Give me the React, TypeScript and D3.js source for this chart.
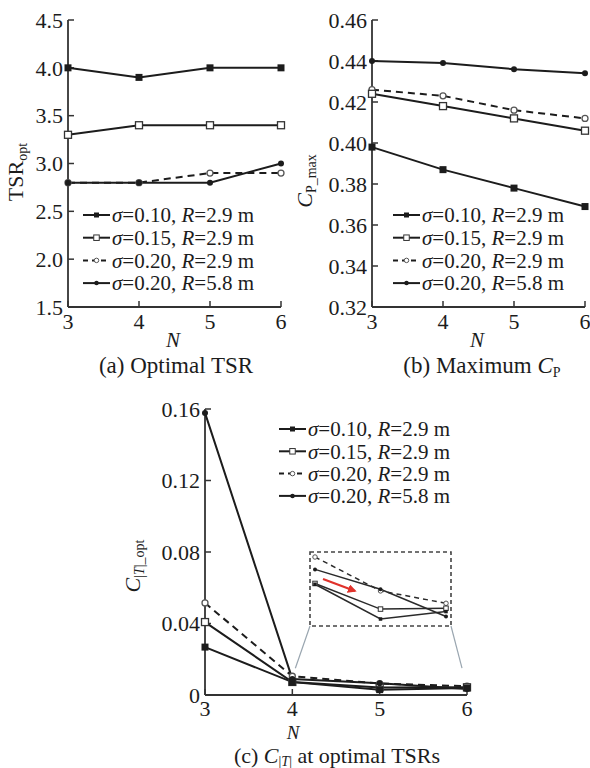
import React from "react";
import * as d3 from "d3";

// Blade numbers on every x axis
const N_VALUES = [3, 4, 5, 6];

// Legend labels for the four rotor configurations
const SIGMA_LABELS = ["0.10", "0.15", "0.20", "0.20"];
const RADIUS_LABELS = ["2.9", "2.9", "2.9", "5.8"];

// (a) optimal tip speed ratio
const TSR_S010_R29 = [4.0, 3.9, 4.0, 4.0];
const TSR_S015_R29 = [3.3, 3.4, 3.4, 3.4];
const TSR_S020_R29 = [2.8, 2.8, 2.9, 2.9];
const TSR_S020_R58 = [2.8, 2.8, 2.8, 3.0];

// (b) maximum power coefficient
const CP_S010_R29 = [0.398, 0.387, 0.378, 0.369];
const CP_S015_R29 = [0.424, 0.418, 0.412, 0.406];
const CP_S020_R29 = [0.426, 0.423, 0.416, 0.412];
const CP_S020_R58 = [0.44, 0.439, 0.436, 0.434];

// (c) torque ripple coefficient at optimal TSR
const CT_S010_R29 = [0.0268, 0.0072, 0.003, 0.0039];
const CT_S015_R29 = [0.0408, 0.0073, 0.0042, 0.0043];
const CT_S020_R29 = [0.0515, 0.0105, 0.0064, 0.0049];
const CT_S020_R58 = [0.1578, 0.009, 0.0066, 0.0033];

// Axis ticks
const TSR_TICKS = [1.5, 2.0, 2.5, 3.0, 3.5, 4.0, 4.5];
const CP_TICKS = [0.32, 0.34, 0.36, 0.38, 0.4, 0.42, 0.44, 0.46];
const CT_TICKS = [0, 0.04, 0.08, 0.12, 0.16];

type Kind = "fsq" | "osq" | "ocirc" | "fcirc";
const KINDS: Kind[] = ["fsq", "osq", "ocirc", "fcirc"];
const DASHED = [false, false, true, false];
// draw order: dashed first so solid lines sit on top
const DRAW_ORDER = [2, 1, 0, 3];

const FONT = "'Liberation Serif', 'Times New Roman', Times, serif";
const INK = "#1c1c1c";

function Marker({ kind, x, y, s, sw = 1.3 }: { kind: Kind; x: number; y: number; s: number; sw?: number }) {
  if (kind === "fsq") return <rect x={x - s / 2} y={y - s / 2} width={s} height={s} fill={INK} />;
  if (kind === "osq")
    return <rect x={x - s / 2} y={y - s / 2} width={s} height={s} fill="#fff" stroke="#333" strokeWidth={sw} />;
  if (kind === "ocirc") return <circle cx={x} cy={y} r={s / 2} fill="#fff" stroke="#555" strokeWidth={sw} />;
  return <circle cx={x} cy={y} r={s / 2} fill={INK} />;
}

function LegendLabel({ i, x, y }: { i: number; x: number; y: number }) {
  return (
    <text x={x} y={y} dy="0.35em" fontSize={21} fontFamily={FONT} fill={INK}>
      <tspan fontStyle="italic">σ</tspan>={SIGMA_LABELS[i]}, <tspan fontStyle="italic">R</tspan>={RADIUS_LABELS[i]} m
    </text>
  );
}

function Legend({ x, y, step }: { x: number; y: number; step: number }) {
  const sizes = [5, 5.5, 4.5, 4.5];
  return (
    <g>
      {KINDS.map((k, i) => {
        const yy = y + i * step;
        return (
          <g key={i}>
            <line
              x1={x}
              x2={x + 27}
              y1={yy}
              y2={yy}
              stroke={INK}
              strokeWidth={2}
              strokeDasharray={DASHED[i] ? "5,4" : undefined}
            />
            <Marker kind={k} x={x + 13.5} y={yy} s={sizes[i]} sw={1} />
            <LegendLabel i={i} x={x + 29} y={yy} />
          </g>
        );
      })}
    </g>
  );
}

type PanelProps = {
  x0: number;
  x1: number;
  y0: number;
  y1: number;
  domain: [number, number];
  ticks: number[];
  fmt: (v: number) => string;
  series: number[][];
  legend: { x: number; y: number; step: number };
  nX: number;
  nDy?: number;
  nSize?: number;
  xtDy?: number;
  tickLen?: number;
};

function Panel({
  x0,
  x1,
  y0,
  y1,
  domain,
  ticks,
  fmt,
  series,
  legend,
  nX,
  nDy = 40,
  nSize = 21,
  xtDy = 22,
  tickLen = 6,
}: PanelProps) {
  const xs = d3.scaleLinear().domain([3, 6]).range([x0, x1]);
  const ys = d3.scaleLinear().domain(domain).range([y1, y0]);
  const line = d3
    .line<number>()
    .x((_, i) => xs(N_VALUES[i]))
    .y((d) => ys(d));
  const mSize = [7, 7, 6, 6];
  return (
    <g>
      {/* axes */}
      <line x1={x0} x2={x0} y1={ys(domain[1])} y2={y1} stroke="#333" strokeWidth={1.8} />
      <line x1={x0} x2={x1} y1={y1} y2={y1} stroke="#333" strokeWidth={1.8} />
      {ticks.map((t) => (
        <g key={"y" + t}>
          <line x1={x0} x2={x0 + tickLen} y1={ys(t)} y2={ys(t)} stroke="#333" strokeWidth={1.5} />
          <text
            x={x0 - 5}
            y={ys(t)}
            dy="0.35em"
            textAnchor="end"
            fontSize={22}
            fontFamily={FONT}
            fill={INK}
          >
            {fmt(t)}
          </text>
        </g>
      ))}
      {N_VALUES.map((n) => (
        <g key={"x" + n}>
          <line x1={xs(n)} x2={xs(n)} y1={y1} y2={y1 - tickLen} stroke="#333" strokeWidth={1.5} />
          <text x={xs(n)} y={y1 + xtDy} textAnchor="middle" fontSize={22} fontFamily={FONT} fill={INK}>
            {n}
          </text>
        </g>
      ))}
      <text
        x={nX}
        y={y1 + nDy}
        textAnchor="middle"
        fontSize={nSize}
        fontStyle="italic"
        fontFamily={FONT}
        fill={INK}
      >
        N
      </text>
      {/* series */}
      {DRAW_ORDER.map((i) => (
        <path
          key={"l" + i}
          d={line(series[i]) || ""}
          fill="none"
          stroke={INK}
          strokeWidth={2}
          strokeDasharray={DASHED[i] ? "7,5" : undefined}
        />
      ))}
      {DRAW_ORDER.map((i) =>
        series[i].map((v, j) => (
          <Marker key={"m" + i + "-" + j} kind={KINDS[i]} x={xs(N_VALUES[j])} y={ys(v)} s={mSize[i]} />
        ))
      )}
      <Legend {...legend} />
    </g>
  );
}

export default function App() {
  const TSR = [TSR_S010_R29, TSR_S015_R29, TSR_S020_R29, TSR_S020_R58];
  const CP = [CP_S010_R29, CP_S015_R29, CP_S020_R29, CP_S020_R58];
  const CT = [CT_S010_R29, CT_S015_R29, CT_S020_R29, CT_S020_R58];

  // panel (c) scales, shared with the magnified inset
  const cx0 = 205,
    cx1 = 467,
    cy0 = 409,
    cy1 = 695;
  const xc = d3.scaleLinear().domain([3, 6]).range([cx0, cx1]);
  const yc = d3.scaleLinear().domain([0, 0.16]).range([cy1, cy0]);

  // inset: N = 4..6 magnified
  const inset = { x: 310, y: 552, w: 141, h: 74 };
  const xi = d3.scaleLinear().domain([4, 6]).range([inset.x + 5, inset.x + inset.w - 5]);
  const yi = d3.scaleLinear().domain([0.003, 0.0105]).range([inset.y + 67, inset.y + 5]);
  const insetLine = d3
    .line<number>()
    .x((_, i) => xi(N_VALUES[i + 1]))
    .y((d) => yi(d));
  const insetMarker = [3.5, 4.5, 4.5, 4];

  return (
    <svg
      width={590}
      height={768}
      style={{ position: "absolute", left: 0, top: 0, background: "#fff" }}
      fontFamily={FONT}
    >
      <rect width={590} height={768} fill="#fff" />
      <defs>
        <marker id="redHead" viewBox="0 0 10 10" refX="8" refY="5" markerWidth="4" markerHeight="4" orient="auto">
          <path d="M0,0 L10,5 L0,10 z" fill="#e0322b" />
        </marker>
      </defs>

      {/* (a) Optimal TSR */}
      <Panel
        x0={68}
        x1={281}
        y0={20}
        y1={307}
        domain={[1.5, 4.5]}
        ticks={TSR_TICKS}
        fmt={d3.format(".1f")}
        series={TSR}
        legend={{ x: 83, y: 215, step: 22.7 }}
        nX={173}
      />
      <text transform="translate(23,172) rotate(-90)" textAnchor="middle" fontSize={22} fill={INK}>
        TSR
        <tspan fontSize={14} dy={4}>
          opt
        </tspan>
      </text>
      <text x={176} y={373} textAnchor="middle" fontSize={23} fill={INK}>
        (a) Optimal TSR
      </text>

      {/* (b) Maximum Cp */}
      <Panel
        x0={372}
        x1={585}
        y0={20}
        y1={307}
        domain={[0.32, 0.46]}
        ticks={CP_TICKS}
        fmt={d3.format(".2f")}
        series={CP}
        legend={{ x: 393, y: 215, step: 22.7 }}
        nX={477}
      />
      <text transform="translate(312,181) rotate(-90)" textAnchor="middle" fontSize={22} fill={INK}>
        <tspan fontStyle="italic">C</tspan>
        <tspan fontSize={14} dy={4}>
          P_max
        </tspan>
      </text>
      <text x={482} y={373} textAnchor="middle" fontSize={23} fill={INK}>
        (b) Maximum <tspan fontStyle="italic">C</tspan>
        <tspan fontSize={14} dy={4}>
          P
        </tspan>
      </text>

      {/* (c) torque coefficient ripple */}
      <Panel
        x0={cx0}
        x1={cx1}
        y0={cy0}
        y1={cy1}
        domain={[0, 0.16]}
        ticks={CT_TICKS}
        fmt={(v) => (v === 0 ? "0" : d3.format(".2f")(v))}
        series={CT}
        legend={{ x: 279, y: 429, step: 22.3 }}
        nX={293}
        nDy={43.5}
        nSize={19}
        xtDy={21}
      />
      <text transform="translate(140,566) rotate(-90)" textAnchor="middle" fontSize={22} fill={INK}>
        <tspan fontStyle="italic">C</tspan>
        <tspan fontSize={14} dy={4}>
          |<tspan fontStyle="italic">T</tspan>|_opt
        </tspan>
      </text>
      <text x={337} y={763} textAnchor="middle" fontSize={22} fill={INK}>
        (c) <tspan fontStyle="italic">C</tspan>
        <tspan fontSize={14} dy={3}>
          |<tspan fontStyle="italic">T</tspan>|
        </tspan>
        <tspan dy={-3}> at optimal TSRs</tspan>
      </text>

      {/* inset frame and connectors */}
      <line
        x1={inset.x}
        y1={inset.y + inset.h}
        x2={xc(4) + 3}
        y2={yc(0.015)}
        stroke="#9aa6b0"
        strokeWidth={1.2}
      />
      <line
        x1={inset.x + inset.w}
        y1={inset.y + inset.h}
        x2={xc(6) - 5}
        y2={yc(0.015)}
        stroke="#9aa6b0"
        strokeWidth={1.2}
      />
      <rect
        x={inset.x}
        y={inset.y}
        width={inset.w}
        height={inset.h}
        fill="none"
        stroke="#444"
        strokeWidth={1.6}
        strokeDasharray="4,3"
      />
      {DRAW_ORDER.map((i) => (
        <path
          key={"il" + i}
          d={insetLine(CT[i].slice(1)) || ""}
          fill="none"
          stroke="#2a2a2a"
          strokeWidth={1.5}
          strokeDasharray={DASHED[i] ? "5,4" : undefined}
        />
      ))}
      {DRAW_ORDER.map((i) =>
        CT[i].slice(1).map((v, j) => (
          <Marker
            key={"im" + i + "-" + j}
            kind={KINDS[i]}
            x={xi(N_VALUES[j + 1])}
            y={yi(v)}
            s={insetMarker[i]}
            sw={1}
          />
        ))
      )}
      <line
        x1={inset.x + 13}
        y1={inset.y + 27}
        x2={inset.x + 45}
        y2={inset.y + 39}
        stroke="#e0322b"
        strokeWidth={2.2}
        markerEnd="url(#redHead)"
      />
    </svg>
  );
}
